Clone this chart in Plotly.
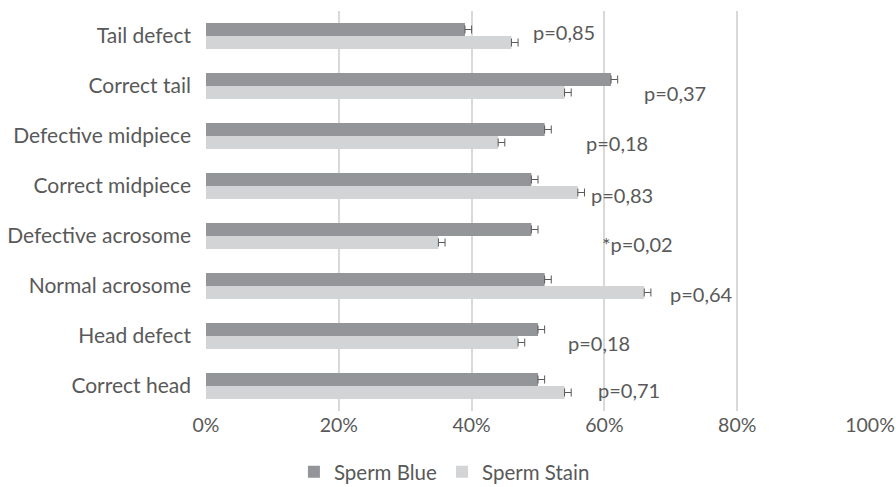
import plotly.graph_objects as go

categories = ["Tail defect", "Correct tail", "Defective midpiece", "Correct midpiece",
              "Defective acrosome", "Normal acrosome", "Head defect", "Correct head"]
sperm_blue = [39, 61, 51, 49, 49, 51, 50, 50]
sperm_stain = [46, 54, 44, 56, 35, 66, 47, 54]
blue_err = [1, 1, 1, 1, 1, 1, 1, 1]
stain_err = [1, 1, 1, 1, 1, 1, 1, 1]
p_labels = ["p=0,85", "p=0,37", "p=0,18", "p=0,83", "*p=0,02", "p=0,64", "p=0,18", "p=0,71"]
x_ticks = [0, 20, 40, 60, 80, 100]

# annotation placement (layout only)
p_label_x = [53.9, 70.6, 61.9, 62.7, 65.0, 74.6, 59.2, 63.7]
p_label_shift = [4, -7, -7, -9, -8, -8, -7, -4]

FONT = "Lato"
TXT = "#595959"

fig = go.Figure()
fig.add_trace(go.Bar(
    y=categories, x=sperm_blue, name="Sperm Blue", orientation="h",
    marker=dict(color="#939598", line=dict(width=0)),
    error_x=dict(type="data", array=blue_err, arrayminus=[0] * len(blue_err), symmetric=False,
                 color="#595959", thickness=1, width=4),
))
fig.add_trace(go.Bar(
    y=categories, x=sperm_stain, name="Sperm Stain", orientation="h",
    marker=dict(color="#D3D4D6", line=dict(width=0)),
    error_x=dict(type="data", array=stain_err, arrayminus=[0] * len(stain_err), symmetric=False,
                 color="#595959", thickness=1, width=4),
))

for cat, lab, px, dy in zip(categories, p_labels, p_label_x, p_label_shift):
    fig.add_annotation(x=px, y=cat, text=lab, showarrow=False, xanchor="center", yanchor="middle",
                       yshift=dy, font=dict(family=FONT, size=20, color=TXT))

fig.update_layout(
    width=896, height=487,
    margin=dict(l=206, r=26, t=11, b=76, autoexpand=False),
    paper_bgcolor="white", plot_bgcolor="white",
    barmode="group", bargap=0.48, bargroupgap=0,
    font=dict(family=FONT, size=20, color=TXT),
    xaxis=dict(range=[0, 100], tickvals=x_ticks, ticktext=[f"{v}%" for v in x_ticks],
               showgrid=True, gridcolor="#D9D9D9", gridwidth=1.5, zeroline=False, automargin=False,
               showline=False, ticks="", tickfont=dict(family=FONT, size=19.5, color=TXT)),
    yaxis=dict(autorange="reversed", showgrid=False, showline=False, ticks="", zeroline=False,
               automargin=False, ticklabelstandoff=14, tickfont=dict(family=FONT, size=21, color=TXT)),
    legend=dict(orientation="h", xref="container", yref="paper", x=0.496, xanchor="center",
                y=-0.152, yanchor="middle", font=dict(family=FONT, size=20.5, color=TXT),
                itemwidth=30, tracegroupgap=0),
    showlegend=True,
)

fig.write_html("out.html", config={"displayModeBar": False},
               post_script="document.body.style.margin='0';")
